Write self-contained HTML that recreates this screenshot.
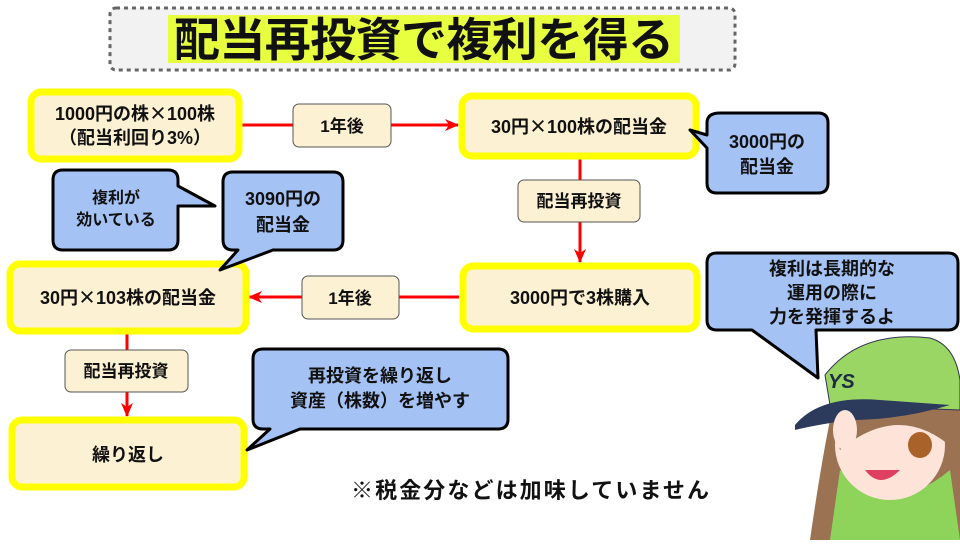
<!DOCTYPE html>
<html><head><meta charset="utf-8"><style>
body{margin:0;background:#fff}
svg text{font-family:"Liberation Sans","Noto Sans CJK JP",sans-serif;font-weight:bold;fill:#111}
.x{font-family:"Noto Sans CJK JP",sans-serif}
</style></head><body>
<svg width="960" height="540" viewBox="0 0 960 540" xmlns="http://www.w3.org/2000/svg">
<defs><marker id="ah" markerWidth="14" markerHeight="12" refX="13" refY="6" orient="auto" markerUnits="userSpaceOnUse"><path d="M0,0 L14,6 L0,12 L4,6 Z" fill="#f00"/></marker></defs>
<rect x="110" y="8" width="625" height="62" rx="6" fill="#f2f2f2" stroke="#666" stroke-width="3" stroke-dasharray="4,4"/>
<rect x="168" y="15" width="512" height="48" fill="#e8ff40"/>
<text x="424" y="56" font-size="46" text-anchor="middle" textLength="500">配当再投資で複利を得る</text>
<g stroke="#f00" stroke-width="3" fill="none">
<line x1="242" y1="125" x2="293" y2="125"/><line x1="391" y1="125" x2="458" y2="125" marker-end="url(#ah)"/>
<line x1="580" y1="159" x2="580" y2="180"/><line x1="580" y1="222" x2="580" y2="262" marker-end="url(#ah)"/>
<line x1="459" y1="297" x2="399" y2="297"/><line x1="302" y1="297" x2="249" y2="297" marker-end="url(#ah)"/>
<line x1="127" y1="334" x2="127" y2="350"/><line x1="127" y1="392" x2="127" y2="416" marker-end="url(#ah)"/>
</g>
<g fill="#fdf1d4" stroke="#ffff00" stroke-width="7">
<rect x="31" y="92" width="208" height="67" rx="10"/>
<rect x="462" y="96" width="234" height="60" rx="10"/>
<rect x="463" y="266" width="234" height="63" rx="10"/>
<rect x="10" y="264" width="236" height="67" rx="10"/>
<rect x="12" y="420" width="232" height="67" rx="10"/>
</g>
<text x="135" y="120" font-size="18" text-anchor="middle">1000円の株<tspan class="x">×</tspan>100株</text>
<text x="135" y="144" font-size="18" text-anchor="middle">（配当利回り3%）</text>
<text x="579" y="133" font-size="18" text-anchor="middle">30円<tspan class="x">×</tspan>100株の配当金</text>
<text x="580" y="304" font-size="18" text-anchor="middle">3000円で3株購入</text>
<text x="128" y="304" font-size="18" text-anchor="middle">30円<tspan class="x">×</tspan>103株の配当金</text>
<text x="128" y="461" font-size="18" text-anchor="middle">繰り返し</text>
<g fill="#fdf1d4" stroke="#555" stroke-width="1">
<rect x="293" y="104" width="98" height="43" rx="6"/>
<rect x="518" y="180" width="122" height="42" rx="6"/>
<rect x="302" y="276" width="97" height="43" rx="6"/>
<rect x="65" y="350" width="123" height="42" rx="6"/>
</g>
<text x="342" y="132" font-size="17" text-anchor="middle">1年後</text>
<text x="579" y="207" font-size="17" text-anchor="middle">配当再投資</text>
<text x="350" y="304" font-size="17" text-anchor="middle">1年後</text>
<text x="126" y="377" font-size="17" text-anchor="middle">配当再投資</text>
<g fill="#a4c2f4" stroke="#000" stroke-width="3" stroke-linejoin="round">
<path d="M720,113 H818 Q828,113 828,123 V183 Q828,193 818,193 H717 Q707,193 707,183 V148 L690,130 L707,135 V123 Q707,113 720,113 Z"/>
<path d="M63,170 H168 Q178,170 178,180 V186 L215,206 L178,206 V240 Q178,250 168,250 H63 Q53,250 53,240 V180 Q53,170 63,170 Z"/>
<path d="M233,172 H333 Q343,172 343,182 V240 Q343,250 333,250 H273 L220,270 L238,250 H233 Q223,250 223,240 V182 Q223,172 233,172 Z"/>
<path d="M263,349 H498 Q508,349 508,359 V419 Q508,429 498,429 H300 L247,450 L270,429 H263 Q253,429 253,419 V359 Q253,349 263,349 Z"/>
<path d="M717,253 H948 Q958,253 958,263 V320 Q958,330 948,330 H816 L818,378 L752,330 H717 Q707,330 707,320 V263 Q707,253 717,253 Z"/>
</g>
<text x="767" y="148" font-size="18" text-anchor="middle">3000円の</text>
<text x="767" y="173" font-size="18" text-anchor="middle">配当金</text>
<text x="116" y="203" font-size="16" text-anchor="middle">複利が</text>
<text x="116" y="225" font-size="16" text-anchor="middle">効いている</text>
<text x="283" y="205" font-size="18" text-anchor="middle">3090円の</text>
<text x="283" y="231" font-size="18" text-anchor="middle">配当金</text>
<text x="380" y="382" font-size="18" text-anchor="middle">再投資を繰り返し</text>
<text x="380" y="407" font-size="18" text-anchor="middle">資産（株数）を増やす</text>
<text x="832" y="275" font-size="18" text-anchor="middle">複利は長期的な</text>
<text x="832" y="299" font-size="18" text-anchor="middle">運用の際に</text>
<text x="832" y="323" font-size="18" text-anchor="middle">力を発揮するよ</text>
<text x="530" y="498" font-size="22" text-anchor="middle" textLength="358">※税金分などは加味していません</text>
<path d="M830,420 Q820,470 810,540 H960 V400 Z" fill="#9b7252"/>
<path d="M840,470 Q890,520 950,470 L960,540 H830 Z" fill="#8fd45a"/>
<ellipse cx="890" cy="445" rx="55" ry="55" fill="#fde3d8"/>
<path d="M832,420 Q890,380 950,420 L955,450 Q900,400 840,450 Z" fill="#9b7252"/>
<path d="M825,375 Q860,330 930,338 Q955,345 960,380 L960,410 L830,405 Z" fill="#9ad663" stroke="#335" stroke-width="1"/>
<path d="M795,425 Q820,395 880,400 L950,405 Q900,420 850,420 Q815,425 795,430 Z" fill="#2c3a5c"/>
<text x="828" y="388" font-size="20" style="fill:#1e2b44;font-style:italic">YS</text>
<ellipse cx="920" cy="445" rx="12" ry="13" fill="#a9622a"/>
<path d="M865,470 Q880,490 900,470 Z" fill="#e04060"/>
<ellipse cx="845" cy="430" rx="12" ry="20" fill="#fde3d8"/>
</svg>
</body></html>
